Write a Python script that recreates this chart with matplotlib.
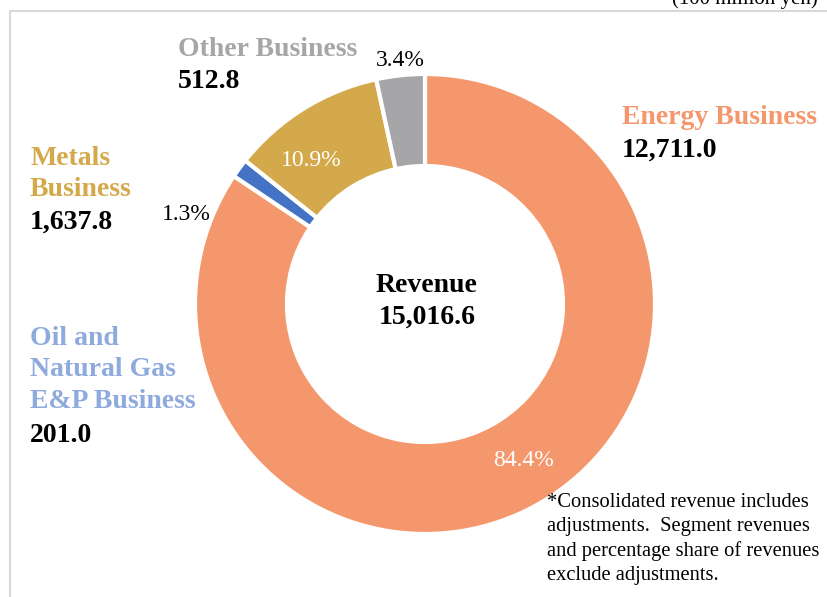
import matplotlib.pyplot as plt
from matplotlib.patches import Rectangle

# data
segments = ['Energy Business', 'Oil and\nNatural Gas\nE&P Business', 'Metals\nBusiness', 'Other Business']
revenue = [12711.0, 201.0, 1637.8, 512.8]
value_labels = ['12,711.0', '201.0', '1,637.8', '512.8']
pct_labels = ['84.4%', '1.3%', '10.9%', '3.4%']
total_label = '15,016.6'
colors = ['#F5976C', '#4472C4', '#D4A94B', '#A6A6A8']
name_colors = ['#F5976C', '#8FAADC', '#D4A94B', '#A6A6A8']

plt.rcParams['font.family'] = ['Liberation Serif', 'DejaVu Serif']

W, H = 827, 597
fig = plt.figure(figsize=(W / 100, H / 100), dpi=100)

def px(x, y):
    return x / W, 1 - y / H

# frame
fig.patches.append(Rectangle(px(10, 620), 900 / W, 609 / H, transform=fig.transFigure,
                             fill=False, edgecolor='#D9D9D9', linewidth=1.5))

# donut
cx, cy, r = 425, 304, 230
ax = fig.add_axes([(cx - r) / W, (H - cy - r) / H, 2 * r / W, 2 * r / H])
ax.pie(revenue, colors=colors, startangle=90, counterclock=False, radius=1,
       wedgeprops=dict(width=0.4, edgecolor='white', linewidth=3))
ax.set_xlim(-1, 1)
ax.set_ylim(-1, 1)
ax.axis('off')

big = 20
small = 17

# centre
fig.text(*px(427, 285), 'Revenue', ha='center', va='center', fontsize=big, fontweight='bold')
fig.text(*px(427, 317), total_label, ha='center', va='center', fontsize=big, fontweight='bold')

# segment names and values
fig.text(*px(622, 118), segments[0], ha='left', va='center', fontsize=big,
         fontweight='bold', color=name_colors[0])
fig.text(*px(622, 150), value_labels[0], ha='left', va='center', fontsize=big, fontweight='bold')

fig.text(*px(30, 370), segments[1], ha='left', va='center', fontsize=big,
         fontweight='bold', color=name_colors[1], linespacing=1.35)
fig.text(*px(30, 435), value_labels[1], ha='left', va='center', fontsize=big, fontweight='bold')

fig.text(*px(30, 174), segments[2], ha='left', va='center', fontsize=big,
         fontweight='bold', color=name_colors[2], linespacing=1.35)
fig.text(*px(30, 222), value_labels[2], ha='left', va='center', fontsize=big, fontweight='bold')

fig.text(*px(178, 50), segments[3], ha='left', va='center', fontsize=big,
         fontweight='bold', color=name_colors[3])
fig.text(*px(178, 82), value_labels[3], ha='left', va='center', fontsize=big, fontweight='bold')

# percentages
fig.text(*px(523, 461), pct_labels[0], ha='center', va='center', fontsize=small, color='white')
fig.text(*px(186, 215), pct_labels[1], ha='center', va='center', fontsize=small)
fig.text(*px(311, 160), pct_labels[2], ha='center', va='center', fontsize=small, color='white')
fig.text(*px(400, 60), pct_labels[3], ha='center', va='center', fontsize=small)

# footnote
fig.text(*px(547, 493), '*Consolidated revenue includes\nadjustments.  Segment revenues\n'
         'and percentage share of revenues\nexclude adjustments.',
         ha='left', va='top', fontsize=14.8, linespacing=1.36)

# unit (cut off at top)
fig.text(*px(672, 4), '(100 million yen)', ha='left', va='baseline', fontsize=15)

fig.savefig('out.png', dpi=100)
